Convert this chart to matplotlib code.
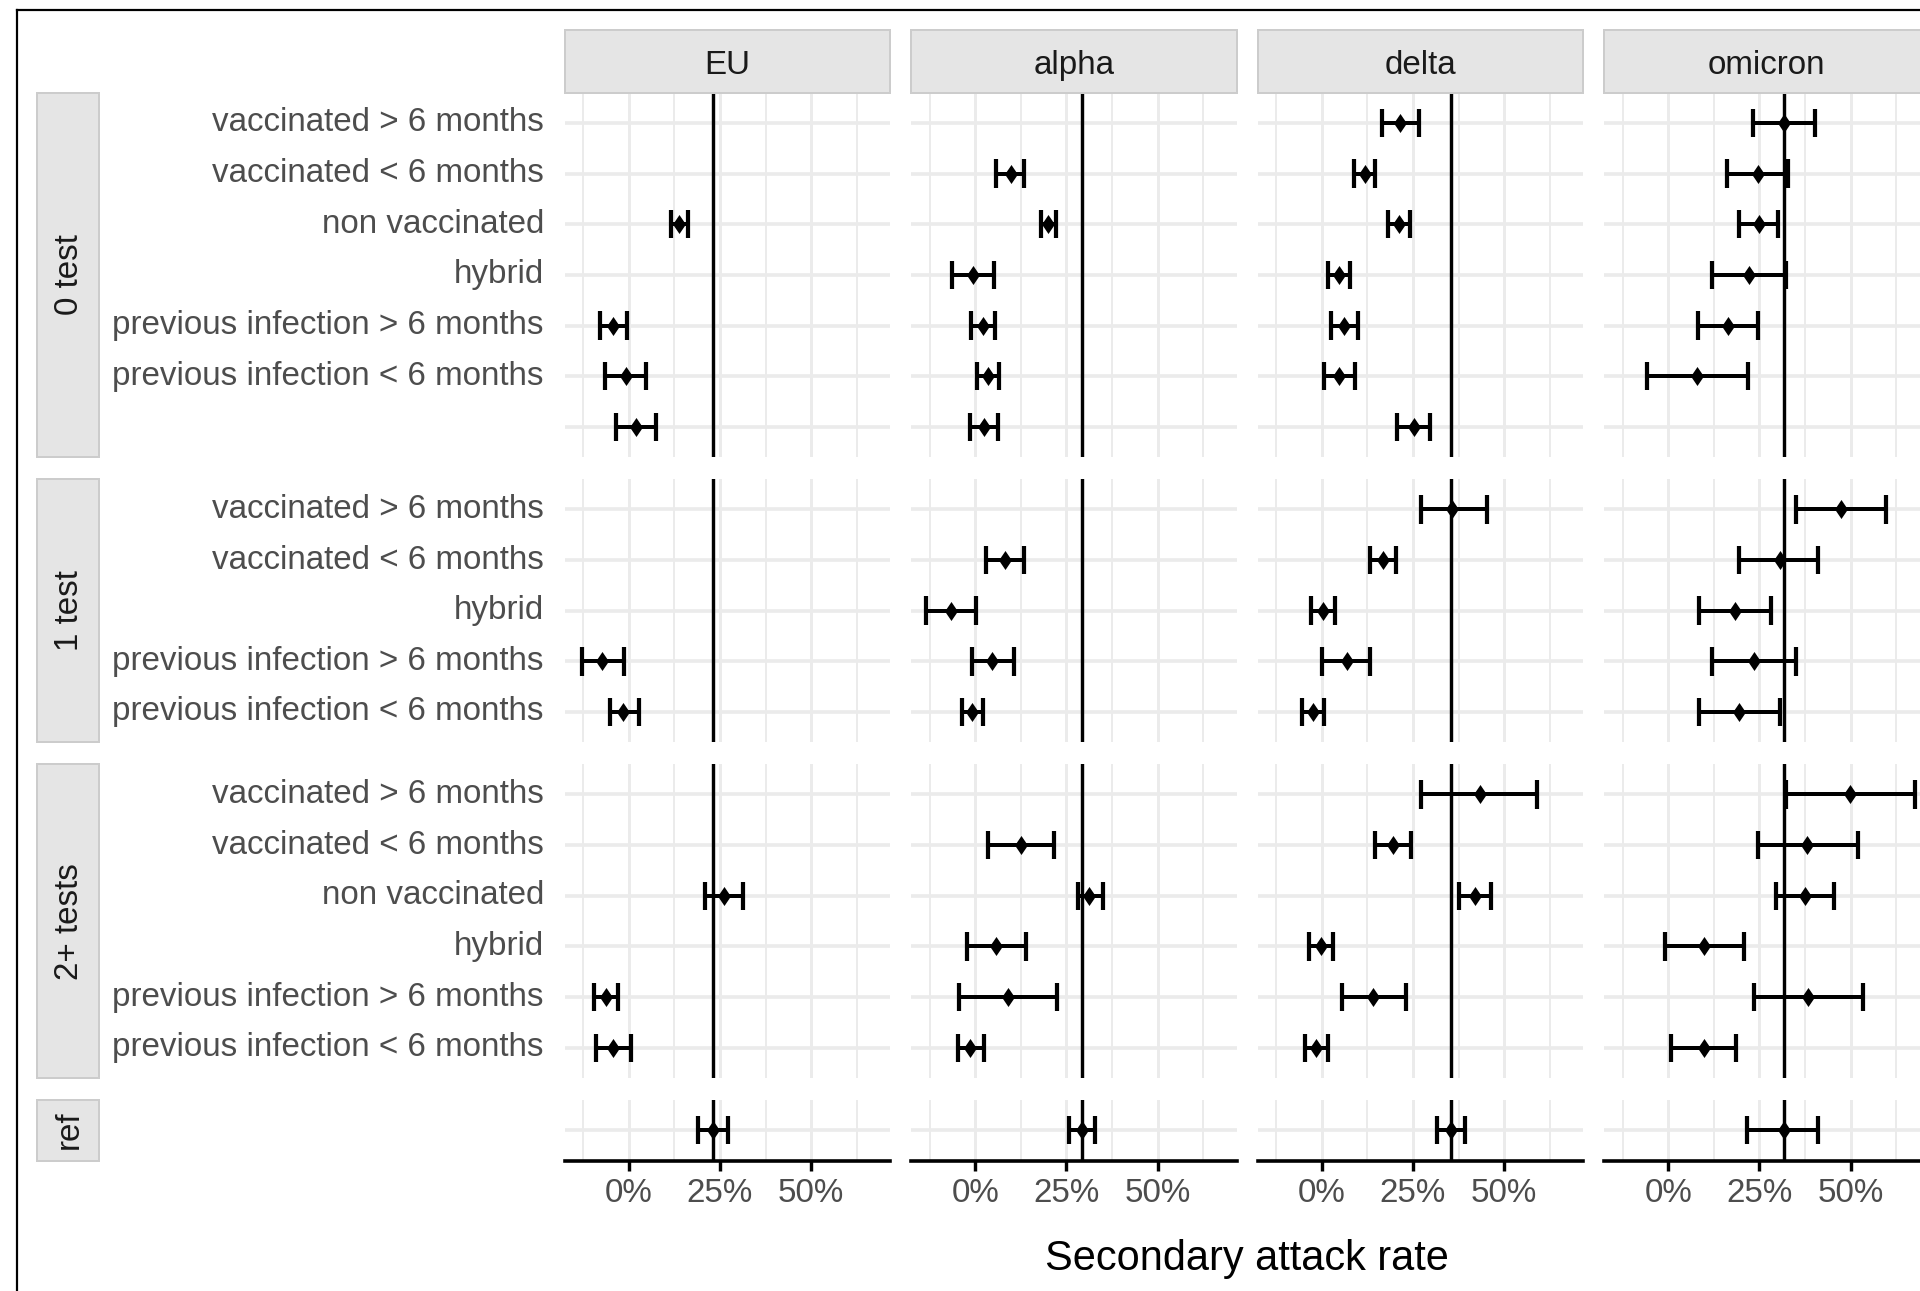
import numpy as np
import matplotlib
matplotlib.use("Agg")
import matplotlib.pyplot as plt
from matplotlib.patches import Rectangle
from matplotlib.lines import Line2D
from matplotlib.path import Path

plt.rcParams['font.family'] = ['Liberation Sans', 'DejaVu Sans']

nan = np.nan

# ---------------- data ----------------
variants = ["EU", "alpha", "delta", "omicron"]
groups = ["0 test", "1 test", "2+ tests", "ref"]

rows_0test = ["vaccinated > 6 months", "vaccinated < 6 months", "non vaccinated", "hybrid",
              "previous infection > 6 months", "previous infection < 6 months", ""]
rows_1test = ["vaccinated > 6 months", "vaccinated < 6 months", "hybrid",
              "previous infection > 6 months", "previous infection < 6 months"]
rows_2tests = ["vaccinated > 6 months", "vaccinated < 6 months", "non vaccinated", "hybrid",
               "previous infection > 6 months", "previous infection < 6 months"]
rows_ref = [""]

# values in % ; order: 0 test (7), 1 test (5), 2+ tests (6), ref (1)
eu_est = [nan, nan, 13.8, nan, -4.3, -0.9, 2.0,
          nan, nan, nan, -7.4, -1.5,
          nan, nan, 26.1, nan, -6.4, -4.3,
          23.0]
eu_lo = [nan, nan, 11.5, nan, -7.8, -6.5, -3.6,
         nan, nan, nan, -12.9, -5.3,
         nan, nan, 20.9, nan, -9.7, -8.9,
         19.0]
eu_hi = [nan, nan, 16.1, nan, -0.5, 4.8, 7.5,
         nan, nan, nan, -1.3, 2.7,
         nan, nan, 31.4, nan, -3.0, 0.7,
         27.3]

alpha_est = [nan, 9.7, 20.0, -0.6, 2.1, 3.4, 2.4,
             nan, 8.1, -6.8, 4.7, -0.9,
             nan, 12.5, 31.3, 5.7, 8.9, -1.4,
             29.2]
alpha_lo = [nan, 5.8, 18.0, -6.3, -1.1, 0.5, -1.4,
            nan, 2.9, -13.6, -1.0, -3.8,
            nan, 3.4, 28.1, -2.3, -4.5, -4.9,
            25.8]
alpha_hi = [nan, 13.3, 22.2, 5.2, 5.3, 6.4, 6.3,
            nan, 13.3, 0.2, 10.7, 2.1,
            nan, 21.7, 34.9, 13.8, 22.3, 2.4,
            32.8]

delta_est = [21.4, 11.8, 21.1, 4.7, 6.2, 4.7, 25.2,
             35.7, 16.8, 0.3, 6.8, -2.4,
             43.3, 19.5, 42.1, -0.2, 14.1, -1.5,
             35.5]
delta_lo = [16.5, 8.7, 18.2, 1.6, 2.6, 0.5, 20.7,
            27.1, 13.2, -3.1, 0.1, -5.4,
            27.3, 14.7, 37.7, -3.5, 5.6, -4.6,
            31.6]
delta_hi = [26.6, 14.7, 24.1, 7.7, 10.0, 9.1, 29.6,
            45.4, 20.3, 3.7, 13.3, 0.7,
            59.1, 24.5, 46.4, 3.1, 23.0, 1.6,
            39.4]

omicron_est = [31.7, 24.7, 25.0, 22.2, 16.4, 7.8, nan,
               47.3, 30.6, 18.2, 23.6, 19.5,
               49.8, 38.0, 37.4, 9.9, 38.3, 9.7,
               31.6]
omicron_lo = [23.2, 16.0, 19.5, 12.0, 8.0, -5.8, nan,
              35.0, 19.5, 8.4, 12.0, 8.4,
              32.2, 24.6, 29.6, -0.9, 23.5, 0.7,
              21.5]
omicron_hi = [40.2, 32.9, 30.2, 32.2, 24.5, 21.9, nan,
              59.6, 41.2, 28.3, 35.1, 30.6,
              67.6, 52.0, 45.4, 20.8, 53.4, 18.5,
              41.2]

x_major = [0, 25, 50]
x_minor = [-12.5, 12.5, 37.5, 62.5]

# ---------------- layout ----------------
W, H = 1920, 1291
fig = plt.figure(figsize=(W / 100, H / 100), dpi=100)
fig.patch.set_facecolor("white")

group_rows = [rows_0test, rows_1test, rows_2tests, rows_ref]
est_all = [eu_est, alpha_est, delta_est, omicron_est]
lo_all = [eu_lo, alpha_lo, delta_lo, omicron_lo]
hi_all = [eu_hi, alpha_hi, delta_hi, omicron_hi]

panel_lefts = [564.5, 911.0, 1257.5, 1604.0]
panel_w = 325.5
unit = 50.65
gap = 21.7
top0 = 92.6

allv = np.array(lo_all + hi_all, dtype=float)
xmin, xmax = np.nanmin(allv), np.nanmax(allv)
xpad = 0.05 * (xmax - xmin)
xlim = (xmin - xpad, xmax + xpad)

PT = 72 / 100  # px -> pt
grid_col = "#EBEBEB"
fs_tick = 33.2 * PT
fs_title = 41.5 * PT

diamond = Path([(0, 1), (0.68, 0), (0, -1), (-0.68, 0), (0, 1)],
               [Path.MOVETO, Path.LINETO, Path.LINETO, Path.LINETO, Path.CLOSEPOLY])


def fig_rect(x0, y0, w, h):
    return [x0 / W, 1 - (y0 + h) / H, w / W, h / H]


panel_tops = []
y = top0
for rows in group_rows:
    h = (len(rows) + 0.2) * unit
    panel_tops.append((y, h))
    y += h + gap

start = 0
for gi, rows in enumerate(group_rows):
    n = len(rows)
    ptop, ph = panel_tops[gi]
    for vi, var in enumerate(variants):
        ax = fig.add_axes(fig_rect(panel_lefts[vi], ptop, panel_w, ph))
        ax.set_facecolor("white")
        ax.set_xlim(*xlim)
        ax.set_ylim(n - 1 + 0.6, -0.6)
        for s in ax.spines.values():
            s.set_visible(False)
        # grid
        for xv in x_minor:
            ax.axvline(xv, color=grid_col, lw=2.0 * PT, zorder=0)
        for xv in x_major:
            ax.axvline(xv, color=grid_col, lw=3.0 * PT, zorder=0)
        for yi in range(n):
            ax.axhline(yi, color=grid_col, lw=3.6 * PT, zorder=0)
        # reference line
        ref_val = est_all[vi][-1]
        ax.axvline(ref_val, color="black", lw=3.4 * PT, zorder=2)
        # error bars and points
        e = np.array(est_all[vi][start:start + n], dtype=float)
        l = np.array(lo_all[vi][start:start + n], dtype=float)
        hh = np.array(hi_all[vi][start:start + n], dtype=float)
        for yi in range(n):
            if np.isnan(e[yi]):
                continue
            ax.plot([l[yi], hh[yi]], [yi, yi], color="black", lw=4.0 * PT,
                    solid_capstyle="butt", zorder=3)
            for xc in (l[yi], hh[yi]):
                ax.plot([xc, xc], [yi - 0.28, yi + 0.28], color="black", lw=4.2 * PT,
                        solid_capstyle="butt", zorder=3)
            ax.plot([e[yi]], [yi], marker=diamond, color="black", markersize=19 * PT,
                    markeredgewidth=0, zorder=4)
        # y ticks
        ax.set_yticks(range(n))
        if vi == 0:
            ax.set_yticklabels(rows, fontsize=fs_tick, color="#4D4D4D")
            for t in ax.get_yticklabels():
                t.set_va("center")
        else:
            ax.set_yticklabels([])
        ax.tick_params(axis="y", length=0, pad=20.5 * PT)
        # x ticks
        ax.set_xticks(x_major)
        if gi == len(group_rows) - 1:
            ax.set_xticklabels([f"{v:.0f}%" for v in x_major], fontsize=fs_tick, color="#4D4D4D")
            ax.tick_params(axis="x", length=10.4 * PT, width=3.4 * PT, color="black", pad=7 * PT)
            ax.spines["bottom"].set_visible(True)
            ax.spines["bottom"].set_color("black")
            ax.spines["bottom"].set_linewidth(3.6 * PT)
        else:
            ax.set_xticklabels([])
            ax.tick_params(axis="x", length=0)
    start += n

# top strips
strip_top, strip_bot = 30.0, 92.6
for vi, var in enumerate(variants):
    r = Rectangle((panel_lefts[vi] / W, 1 - strip_bot / H), panel_w / W, (strip_bot - strip_top) / H,
                  transform=fig.transFigure, facecolor="#E5E5E5", edgecolor="#CCCCCC",
                  lw=2.0 * PT, zorder=1)
    fig.add_artist(r)
    fig.text((panel_lefts[vi] + panel_w / 2) / W, 1 - ((strip_top + strip_bot) / 2 + 4) / H, var,
             ha="center", va="center", fontsize=fs_tick, color="#1A1A1A")

# left strips
sl, sr = 37.0, 99.0
for gi, g in enumerate(groups):
    ptop, ph = panel_tops[gi]
    r = Rectangle((sl / W, 1 - (ptop + ph) / H), (sr - sl) / W, ph / H,
                  transform=fig.transFigure, facecolor="#E5E5E5", edgecolor="#CCCCCC",
                  lw=2.0 * PT, zorder=1)
    fig.add_artist(r)
    fig.text(((sl + sr) / 2 + 1.5) / W, 1 - (ptop + ph / 2) / H, g, rotation=90,
             ha="center", va="center", fontsize=fs_tick, color="#1A1A1A")

# axis title
fig.text(1247 / W, 1 - 1259 / H, "Secondary attack rate", ha="center", va="center",
         fontsize=fs_title, color="black")

# outer border (screenshot frame)
fig.add_artist(Line2D([17 / W, 1.0], [1 - 10 / H, 1 - 10 / H], transform=fig.transFigure,
                      color="black", lw=2.2 * PT))
fig.add_artist(Line2D([17 / W, 17 / W], [1 - 10 / H, 0.0], transform=fig.transFigure,
                      color="black", lw=2.2 * PT))

fig.savefig("out.png", dpi=100)
